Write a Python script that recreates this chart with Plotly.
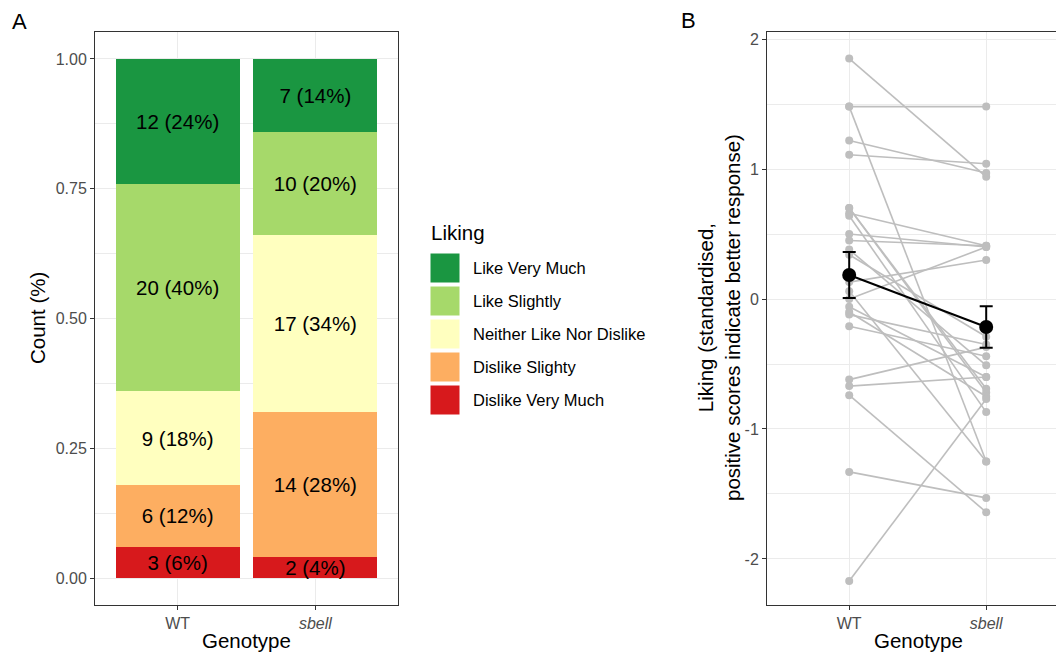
import plotly.graph_objects as go

W, H = 1056, 653

# ---------------- Data ----------------
genotypes = ["WT", "sbell"]
liking_levels = ["Dislike Very Much", "Dislike Slighty", "Neither Like Nor Dislike",
                 "Like Slightly", "Like Very Much"]
level_colors = ["#D7191C", "#FDAE61", "#FFFFBF", "#A6D96A", "#1A9641"]
counts_wt = [3, 6, 9, 20, 12]
counts_sbell = [2, 14, 17, 10, 7]

# Panel B: paired standardised liking scores (WT -> sbell)
wt_scores = [1.85, 1.48, 1.48, 1.22, 1.11, 0.70, 0.66, 0.64, 0.50, 0.45, 0.38, 0.34,
             0.13, 0.06, 0.00, -0.06, -0.10, -0.12, -0.21, -0.62, -0.67, -0.74,
             -1.33, -2.17, 0.70]
sbell_scores = [0.94, 1.48, -1.25, 0.97, 1.04, -0.72, 0.41, -0.87, 0.40, 0.41, -0.51,
                -0.29, 0.30, -1.25, 0.40, -0.60, -0.75, -0.35, -0.44, -0.37, -0.60,
                -1.64, -1.53, -0.77, -0.69]
mean_scores = [0.185, -0.215]
se_scores = [0.177, 0.16]

# ---------------- Helpers ----------------
def px(x):
    return x / W

def py(y):
    return 1 - y / H

FONT = "Liberation Sans, Arial, sans-serif"
GRID = "#EBEBEB"
BORDER = "#333333"
TICKC = "#4D4D4D"
TICK_SIZE = 16
TITLE_SIZE = 20.5

fig = go.Figure()

# ---------------- Panel A: stacked bars ----------------
xpos = [1, 2]
for i, lvl in enumerate(liking_levels):
    fig.add_trace(go.Bar(
        x=xpos, y=[counts_wt[i] / sum(counts_wt), counts_sbell[i] / sum(counts_sbell)],
        width=0.9, marker=dict(color=level_colors[i], line=dict(width=0)),
        name=lvl, showlegend=False, xaxis="x", yaxis="y", hoverinfo="skip"))

# labels at the middle of each segment
for counts, xv in [(counts_wt, 1), (counts_sbell, 2)]:
    tot = sum(counts)
    cum = 0
    ys, txt = [], []
    for c in counts:
        p = c / tot
        ys.append(cum + p / 2 - 0.005)
        cum += p
        txt.append(f"{c} ({round(100 * p)}%)")
    fig.add_trace(go.Scatter(
        x=[xv] * len(ys), y=ys, mode="text", text=txt,
        textfont=dict(size=20.5, color="black", family=FONT),
        showlegend=False, xaxis="x", yaxis="y", hoverinfo="skip"))

# ---------------- Panel B: paired lines ----------------
for a, b in zip(wt_scores, sbell_scores):
    fig.add_trace(go.Scatter(
        x=[1, 2], y=[a, b], mode="lines+markers",
        line=dict(color="#BEBEBE", width=1.6),
        marker=dict(color="#BEBEBE", size=8),
        showlegend=False, xaxis="x2", yaxis="y2", hoverinfo="skip"))

fig.add_trace(go.Scatter(
    x=[1, 2], y=mean_scores, mode="lines+markers",
    line=dict(color="black", width=2),
    marker=dict(color="black", size=14),
    error_y=dict(type="data", array=se_scores, color="black", thickness=2, width=6.5),
    showlegend=False, xaxis="x2", yaxis="y2", hoverinfo="skip"))

dom_y = [py(605), py(32)]

axis_common = dict(
    showline=True, linecolor=BORDER, linewidth=1,
    ticks="outside", ticklen=4, tickcolor=BORDER, tickwidth=1,
    tickfont=dict(size=TICK_SIZE, color=TICKC, family=FONT),
    gridcolor=GRID, gridwidth=1, zeroline=False,
)

fig.update_layout(
    width=W, height=H,
    margin=dict(l=0, r=0, t=0, b=0),
    paper_bgcolor="white", plot_bgcolor="white",
    barmode="stack", bargap=0,
    font=dict(family=FONT),
    xaxis=dict(domain=[px(95), px(398)], range=[0.4, 2.6],
               tickvals=[1, 2], ticktext=["WT", "<i>sbell</i>"],
               mirror=True, showgrid=True, anchor="y", **axis_common),
    yaxis=dict(domain=dom_y, range=[-0.052, 1.052],
               tickvals=[0, 0.25, 0.5, 0.75, 1.0],
               ticktext=["0.00", "0.25", "0.50", "0.75", "1.00"],
               mirror=True, showgrid=True, anchor="x",
               minor=dict(tickvals=[0.125, 0.375, 0.625, 0.875], showgrid=True,
                          gridcolor=GRID, gridwidth=0.6, ticks=""),
               **axis_common),
    xaxis2=dict(domain=[px(767), 1.0], range=[0.4, 0.4 + 289 / 137],
                tickvals=[1, 2], ticktext=["WT", "<i>sbell</i>"],
                mirror=True, showgrid=True, anchor="y2", **axis_common),
    yaxis2=dict(domain=dom_y, range=[-2.354, 2.054],
                tickvals=[-2, -1, 0, 1, 2], ticktext=["-2", "-1", "0", "1", "2"],
                mirror=False, showgrid=True, anchor="x2",
                minor=dict(tickvals=[-1.5, -0.5, 0.5, 1.5], showgrid=True,
                           gridcolor=GRID, gridwidth=0.6, ticks=""),
                **axis_common),
)

annotations = []
shapes = []

def ann(text, x, y, size, xanchor="center", yanchor="middle", angle=0, color="black"):
    annotations.append(dict(
        text=text, x=px(x), y=py(y), xref="paper", yref="paper",
        xanchor=xanchor, yanchor=yanchor, showarrow=False, textangle=angle,
        font=dict(size=size, color=color, family=FONT), align="center"))

# panel letters
ann("A", 10, 22, 22, xanchor="left")
ann("B", 679, 20, 22, xanchor="left")

# axis titles
ann("Genotype", 246, 640, TITLE_SIZE)
ann("Count (%)", 37, 318, TITLE_SIZE, angle=-90)
ann("Genotype", 918, 640, TITLE_SIZE)
ann("Liking (standardised,<br>positive scores indicate better response)", 719, 318,
    TITLE_SIZE, angle=-90)

# legend (manual, ggplot-style)
ann("Liking", 429, 232, TITLE_SIZE, xanchor="left")
legend_order = list(reversed(range(len(liking_levels))))
for k, idx in enumerate(legend_order):
    top = 253 + k * 33
    shapes.append(dict(type="rect", xref="paper", yref="paper",
                       x0=px(430), x1=px(460), y0=py(top + 30), y1=py(top),
                       fillcolor=level_colors[idx], line=dict(color="white", width=1)))
    ann(liking_levels[idx], 471, top + 15, 16.5, xanchor="left")

fig.update_layout(annotations=annotations, shapes=shapes)

fig.write_html("out.html", config={"displayModeBar": False},
               post_script="document.body.style.margin='0px';document.body.style.overflow='hidden';")
